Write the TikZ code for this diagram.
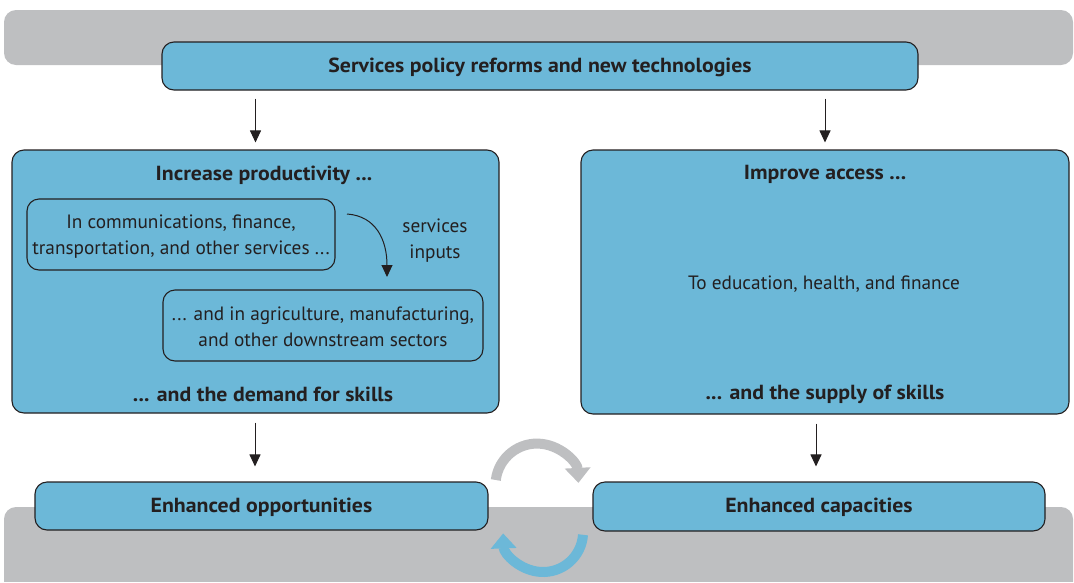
\documentclass[tikz,border=0pt]{standalone}
\usepackage{fontspec}
\setmainfont{PT Sans}[BoldFeatures={FakeStretch=1.07}]
\usetikzlibrary{arrows.meta}
\definecolor{boxblue}{RGB}{108,184,216}
\definecolor{bandgray}{RGB}{190,191,193}
\definecolor{ink}{RGB}{35,31,32}
\tikzset{
  band/.style={fill=bandgray, rounded corners=12pt},
  bluebox/.style={draw=ink, line width=1.1pt, fill=boxblue, rounded corners=12pt,
    inner sep=0pt, text=ink, font=\fontsize{20.4}{24}\selectfont\bfseries},
  innerbox/.style={draw=ink, line width=1.1pt, rounded corners=12pt, inner sep=0pt},
  title/.style={text=ink, font=\fontsize{20.4}{24}\selectfont\bfseries, inner sep=0pt},
  plain/.style={text=ink, align=center, font=\fontsize{19.3}{26}\selectfont, inner sep=0pt},
  arr/.style={draw=ink, line width=1pt, -{Triangle[width=11pt,length=12pt]}},
  cyclearr/.style={line width=10pt, -{Triangle[width=25pt,length=15pt]}},
}
\begin{document}
\begin{tikzpicture}[x=1pt, y=-1pt]
\useasboundingbox (0,0) rectangle (1074,582);
% grey bands behind the top and bottom rows
\fill[band] (4,10) rectangle (1073,65);
\fill[band] (4,507) rectangle (1073,595);
\fill[white] (0,582) rectangle (1074,600);

% boxes
\node[bluebox, minimum width=756pt, minimum height=48pt] (top) at (540,66) {};
\node[title] (toptext) at (540,67) {Services policy reforms and new technologies};
\node[bluebox, minimum width=487pt, minimum height=263pt] (left) at (255.5,281.5) {};
\node[bluebox, minimum width=488pt, minimum height=264pt] (right) at (825,282) {};
\node[bluebox, minimum width=453pt, minimum height=48pt] (opp) at (261.5,506) {};
\node[title] (opptext) at (261.5,507) {Enhanced opportunities};
\node[bluebox, minimum width=452pt, minimum height=49pt] (cap) at (819,506.5) {};
\node[title] (captext) at (819,507.5) {Enhanced capacities};

% left box contents
\node[title] (inc) at (264,175.5) {Increase productivity ...};
\node[innerbox, minimum width=308pt, minimum height=71pt] (svc) at (181,234.5) {};
\node[plain] (svctext) at (181,236.5) {In communications, finance,\\transportation, and other services ...};
\node[innerbox, minimum width=320pt, minimum height=71pt] (down) at (323,325.5) {};
\node[plain] (downtext) at (323,327) {... and in agriculture, manufacturing,\\and other downstream sectors};
\node[plain] (inputs) at (435,241) {services\\inputs};
\node[title] (demand) at (263,394.5) {... and the demand for skills};
\coordinate (cs) at (347,214);
\coordinate (ce) at (387,277);
\draw[arr] (cs) .. controls (376,216) and (387,240) .. (ce);

% right box contents
\node[title] (acc) at (825,174.5) {Improve access ...};
\node[plain] (edu) at (824,284.5) {To education, health, and finance};
\node[title] (supply) at (825,394.5) {... and the supply of skills};

% vertical connectors
\draw[arr] ([yshift=-8pt]top.south -| left.north) -- ([yshift=7pt]left.north);
\draw[arr] ([yshift=-8pt]top.south -| right.north) -- ([yshift=7pt]right.north);
\draw[arr] ([yshift=-9pt]left.south -| 255,0) -- ([yshift=15pt]opp.north -| 255,0);
\draw[arr] ([yshift=-9pt]right.south -| 816,0) -- ([yshift=15pt]cap.north -| 816,0);

% cycle between the two outcomes
\coordinate (g1) at (495.8,480);
\draw[bandgray, cyclearr] (g1) arc[start angle=173, end angle=3, radius=41.5pt];
\coordinate (b1) at (583,534.8);
\draw[boxblue, cyclearr] (b1) arc[start angle=-4, end angle=-178, radius=40pt];
\end{tikzpicture}
\end{document}
